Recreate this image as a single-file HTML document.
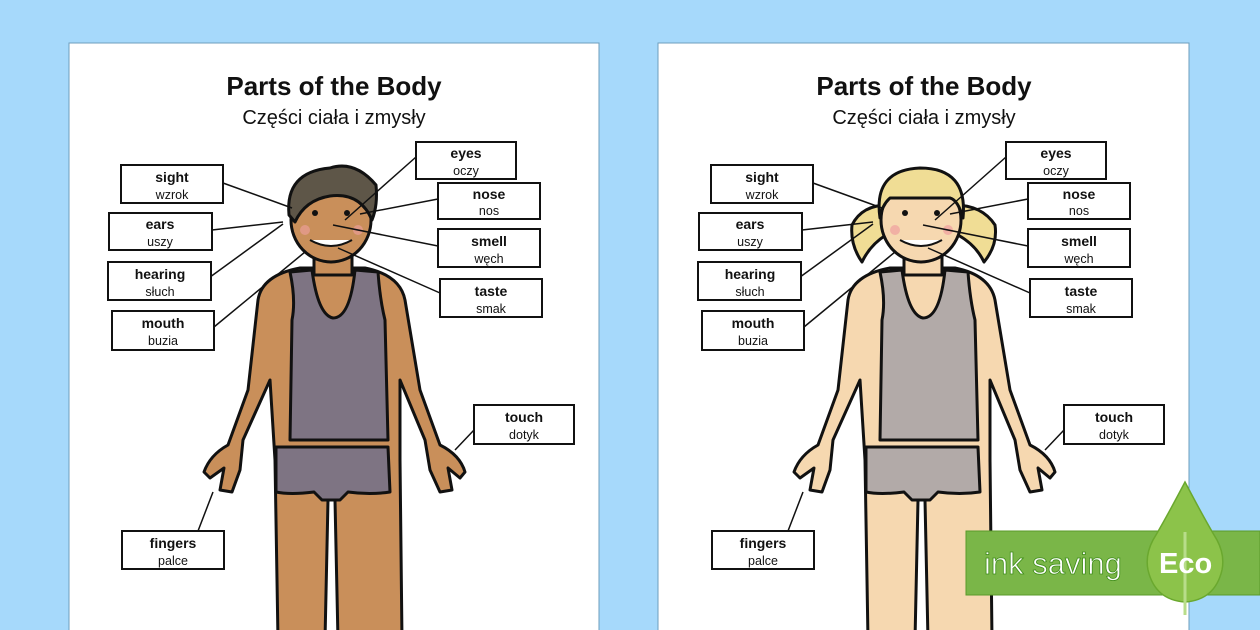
<!DOCTYPE html>
<html><head><meta charset="utf-8"><style>
body{margin:0;width:1260px;height:630px;overflow:hidden;background:#a6d9fb}
svg{display:block}
</style></head><body>
<svg width="1260" height="630" viewBox="0 0 1260 630" font-family="Liberation Sans, sans-serif">
<rect width="1260" height="630" fill="#a6d9fb"/>
<rect x="69" y="43" width="530" height="600" fill="#fff" stroke="#6d9ebc"/>
<rect x="658" y="43" width="531" height="600" fill="#fff" stroke="#6d9ebc"/>

<!-- LEFT PAGE -->
<g fill="#111">
<text x="334" y="95" font-size="26" font-weight="bold" text-anchor="middle">Parts of the Body</text>
<text x="334" y="124" font-size="20" text-anchor="middle">Części ciała i zmysły</text>
<g stroke="#111" stroke-width="3" stroke-linejoin="round">
<path fill="#c98f5a" d="M258 300 Q262 275 300 268 L365 268 Q400 275 405 300 L420 390 L440 445 Q460 455 465 472 L460 478 L448 468 L452 490 L440 492 L430 470 L425 440 L400 380 L400 460 L402 640 L338 640 L335 500 L328 500 L325 640 L278 640 L275 460 L270 380 L243 440 L240 470 L232 492 L220 490 L224 468 L210 478 L204 472 Q210 455 228 445 L248 390 Z"/>
<rect fill="#c98f5a" x="314" y="240" width="38" height="35"/>
<ellipse fill="#c98f5a" cx="331" cy="220" rx="40" ry="42"/>
<path fill="#5e5648" d="M289 215 Q285 172 330 168 Q355 160 376 185 Q378 205 372 220 Q360 192 330 196 Q305 200 295 222 Z"/>
<path fill="#7e7483" d="M290 272 L312 270 Q318 315 333 318 Q350 318 355 270 L378 272 Q380 300 385 320 L388 440 L290 440 L292 320 Q296 300 290 272 Z"/>
<path fill="#7e7483" d="M276 447 L388 447 L390 492 Q370 495 348 492 L340 500 L322 500 L314 492 Q290 495 276 492 Z"/>
</g>
<path d="M310 240 Q331 252 352 240" stroke="#111" stroke-width="2" fill="#fff"/>
<circle cx="315" cy="213" r="3"/><circle cx="347" cy="213" r="3"/>
<circle cx="305" cy="230" r="5" fill="#f0a0a0" opacity=".6"/><circle cx="358" cy="230" r="5" fill="#f0a0a0" opacity=".6"/>
<g stroke="#111" stroke-width="1.5" fill="none">
<line x1="223" y1="183" x2="292" y2="208"/>
<line x1="212" y1="230" x2="283" y2="222"/>
<line x1="206" y1="280" x2="283" y2="224"/>
<line x1="214" y1="327" x2="305" y2="252"/>
<line x1="416" y1="157" x2="345" y2="220"/>
<line x1="438" y1="199" x2="360" y2="214"/>
<line x1="438" y1="246" x2="333" y2="225"/>
<line x1="440" y1="293" x2="338" y2="248"/>
<line x1="474" y1="430" x2="455" y2="450"/>
<line x1="198" y1="531" x2="213" y2="492"/>
</g>
<g stroke="#111" stroke-width="2" fill="#fff">
<rect x="121" y="165" width="102" height="38"/><rect x="109" y="213" width="103" height="37"/>
<rect x="108" y="262" width="103" height="38"/><rect x="112" y="311" width="102" height="39"/>
<rect x="416" y="142" width="100" height="37"/><rect x="438" y="183" width="102" height="36"/>
<rect x="438" y="229" width="102" height="38"/><rect x="440" y="279" width="102" height="38"/>
<rect x="474" y="405" width="100" height="39"/><rect x="122" y="531" width="102" height="38"/>
</g>
<g text-anchor="middle" font-size="14">
<text x="172" y="182" font-weight="bold">sight</text><text x="172" y="199" font-size="12.5">wzrok</text>
<text x="160" y="229" font-weight="bold">ears</text><text x="160" y="246" font-size="12.5">uszy</text>
<text x="160" y="279" font-weight="bold">hearing</text><text x="160" y="296" font-size="12.5">słuch</text>
<text x="163" y="328" font-weight="bold">mouth</text><text x="163" y="345" font-size="12.5">buzia</text>
<text x="466" y="158" font-weight="bold">eyes</text><text x="466" y="175" font-size="12.5">oczy</text>
<text x="489" y="199" font-weight="bold">nose</text><text x="489" y="215" font-size="12.5">nos</text>
<text x="489" y="246" font-weight="bold">smell</text><text x="489" y="263" font-size="12.5">węch</text>
<text x="491" y="296" font-weight="bold">taste</text><text x="491" y="313" font-size="12.5">smak</text>
<text x="524" y="422" font-weight="bold">touch</text><text x="524" y="439" font-size="12.5">dotyk</text>
<text x="173" y="548" font-weight="bold">fingers</text><text x="173" y="565" font-size="12.5">palce</text>
</g>
</g>

<!-- RIGHT PAGE -->
<g fill="#111" transform="translate(590,0)">
<text x="334" y="95" font-size="26" font-weight="bold" text-anchor="middle">Parts of the Body</text>
<text x="334" y="124" font-size="20" text-anchor="middle">Części ciała i zmysły</text>
<g stroke="#111" stroke-width="3" stroke-linejoin="round">
<path fill="#f6d8b0" d="M258 300 Q262 275 300 268 L365 268 Q400 275 405 300 L420 390 L440 445 Q460 455 465 472 L460 478 L448 468 L452 490 L440 492 L430 470 L425 440 L400 380 L400 460 L402 640 L338 640 L335 500 L328 500 L325 640 L278 640 L275 460 L270 380 L243 440 L240 470 L232 492 L220 490 L224 468 L210 478 L204 472 Q210 455 228 445 L248 390 Z"/>
<rect fill="#f6d8b0" x="314" y="240" width="38" height="35"/>
<path fill="#f0dd95" d="M298 205 Q272 205 262 225 Q260 245 272 262 Q280 245 296 235 Z"/>
<path fill="#f0dd95" d="M364 205 Q392 205 405 225 Q408 245 394 262 Q386 245 368 235 Z"/>
<ellipse fill="#f6d8b0" cx="331" cy="220" rx="40" ry="42"/>
<path fill="#f0dd95" d="M290 218 Q283 170 330 168 Q378 168 373 218 Q368 200 360 198 L300 198 Q292 205 290 218 Z"/>
<path fill="#b2aaa8" d="M290 272 L312 270 Q318 315 333 318 Q350 318 355 270 L378 272 Q380 300 385 320 L388 440 L290 440 L292 320 Q296 300 290 272 Z"/>
<path fill="#b2aaa8" d="M276 447 L388 447 L390 492 Q370 495 348 492 L340 500 L322 500 L314 492 Q290 495 276 492 Z"/>
</g>
<path d="M310 240 Q331 252 352 240" stroke="#111" stroke-width="2" fill="#fff"/>
<circle cx="315" cy="213" r="3"/><circle cx="347" cy="213" r="3"/>
<circle cx="305" cy="230" r="5" fill="#f0a0a0" opacity=".7"/><circle cx="358" cy="230" r="5" fill="#f0a0a0" opacity=".7"/>
<g stroke="#111" stroke-width="1.5" fill="none">
<line x1="223" y1="183" x2="292" y2="208"/>
<line x1="212" y1="230" x2="283" y2="222"/>
<line x1="206" y1="280" x2="283" y2="224"/>
<line x1="214" y1="327" x2="305" y2="252"/>
<line x1="416" y1="157" x2="345" y2="220"/>
<line x1="438" y1="199" x2="360" y2="214"/>
<line x1="438" y1="246" x2="333" y2="225"/>
<line x1="440" y1="293" x2="338" y2="248"/>
<line x1="474" y1="430" x2="455" y2="450"/>
<line x1="198" y1="531" x2="213" y2="492"/>
</g>
<g stroke="#111" stroke-width="2" fill="#fff">
<rect x="121" y="165" width="102" height="38"/><rect x="109" y="213" width="103" height="37"/>
<rect x="108" y="262" width="103" height="38"/><rect x="112" y="311" width="102" height="39"/>
<rect x="416" y="142" width="100" height="37"/><rect x="438" y="183" width="102" height="36"/>
<rect x="438" y="229" width="102" height="38"/><rect x="440" y="279" width="102" height="38"/>
<rect x="474" y="405" width="100" height="39"/><rect x="122" y="531" width="102" height="38"/>
</g>
<g text-anchor="middle" font-size="14">
<text x="172" y="182" font-weight="bold">sight</text><text x="172" y="199" font-size="12.5">wzrok</text>
<text x="160" y="229" font-weight="bold">ears</text><text x="160" y="246" font-size="12.5">uszy</text>
<text x="160" y="279" font-weight="bold">hearing</text><text x="160" y="296" font-size="12.5">słuch</text>
<text x="163" y="328" font-weight="bold">mouth</text><text x="163" y="345" font-size="12.5">buzia</text>
<text x="466" y="158" font-weight="bold">eyes</text><text x="466" y="175" font-size="12.5">oczy</text>
<text x="489" y="199" font-weight="bold">nose</text><text x="489" y="215" font-size="12.5">nos</text>
<text x="489" y="246" font-weight="bold">smell</text><text x="489" y="263" font-size="12.5">węch</text>
<text x="491" y="296" font-weight="bold">taste</text><text x="491" y="313" font-size="12.5">smak</text>
<text x="524" y="422" font-weight="bold">touch</text><text x="524" y="439" font-size="12.5">dotyk</text>
<text x="173" y="548" font-weight="bold">fingers</text><text x="173" y="565" font-size="12.5">palce</text>
</g>
</g>

<!-- ECO BADGE -->
<rect x="966" y="531" width="294" height="64" fill="#7ab648" stroke="#5a9a2a"/>
<path d="M1185 482 Q1165 520 1153 540 Q1145 555 1148 570 Q1155 600 1185 602 Q1215 600 1222 570 Q1225 555 1217 540 Q1205 520 1185 482 Z" fill="#8cc34a" stroke="#6aa82e" stroke-width="1.5"/>
<line x1="1185" y1="532" x2="1185" y2="615" stroke="#b8dd8a" stroke-width="3"/>
<text x="984" y="574" font-size="31" fill="#fff" stroke="#3f8d1a" stroke-width="0.8">ink saving</text>
<text x="1159" y="573" font-size="29" font-weight="bold" fill="#fff">Eco</text>
</svg>
</body></html>
